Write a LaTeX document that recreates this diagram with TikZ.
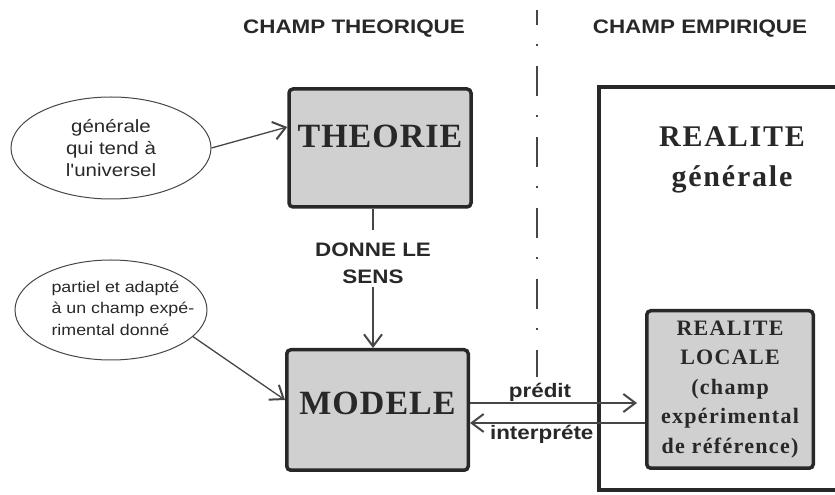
\documentclass[tikz,border=0pt]{standalone}
\usepackage{fontspec}
\usetikzlibrary{arrows.meta,shapes.geometric}
\newfontfamily\hsans[FakeStretch=1.15]{Liberation Sans}
\newfontfamily\tserif{Liberation Serif}
\definecolor{ink}{RGB}{40,40,40}
\definecolor{wire}{RGB}{70,70,70}
\definecolor{stipple}{RGB}{208,208,208}

\begin{document}
\begin{tikzpicture}
      [x = 1pt, y = 1pt,
      head/.style= {
         font = \hsans\bfseries\fontsize{19.5}{27}\selectfont,
         text = ink,
         align = center
      },
      note/.style= {
         font = \hsans\fontsize{17.8}{22}\selectfont,
         text = ink,
         align = center
      },
      smallnote/.style= {
         font = \hsans\fontsize{15.5}{21.5}\selectfont,
         text = ink,
         align = left
      },
      bubble/.style= {
         draw = wire,
         ellipse,
         line width = 1pt,
         inner sep = 0pt
      },
      block/.style= {
         draw = ink,
         fill = stipple,
         line width = 3.5pt,
         rounded corners = 4pt,
         inner sep = 0pt
      },
      big/.style= {
         font = \tserif\bfseries\fontsize{34}{40}\selectfont\addfontfeature{LetterSpace=3},
         text = ink,
         align = center
      },
      mid/.style= {
         font = \tserif\bfseries\fontsize{30}{40}\selectfont\addfontfeature{LetterSpace=6},
         text = ink,
         align = center
      },
      small/.style= {
         font = \tserif\bfseries\fontsize{22}{29.5}\selectfont\addfontfeature{LetterSpace=6},
         text = ink,
         align = center
      },
      link/.style={draw = wire, line width = 1.3pt},
      arr/.style={link, -{Straight Barb[length = 12pt, width = 18pt, line width = 2pt]}}]

      \useasboundingbox (0, 0) rectangle (835, 495);
      \clip (0, 0) rectangle (835, 495);

      % the two fields
      \node[head] (champT) at (354, 466) {CHAMP THEORIQUE};
      \node[head] (champE) at (700, 466) {CHAMP EMPIRIQUE};
      \draw[wire, line width = 1.3pt, dash pattern = on 30pt off 19pt on 2pt off 20pt,
         dash phase = 15pt] (537, 485) -- (537, 118);

      % theoretical side
      \node[block, minimum width = 182pt, minimum height = 118pt] (theorie) at (380, 347) {};
      \node[big] (theorieT) at (380, 359) {THEORIE};
      \node[block, minimum width = 181.5pt, minimum height = 120.5pt] (modele) at (377.5, 85) {};
      \node[big] (modeleT) at (377.5, 92) {MODELE};

      \node[bubble, note, minimum width = 200pt, minimum height = 102pt] (general) at (111, 347)
         {générale\\qui tend à\\l'universel};
      \node[bubble, minimum width = 192pt, minimum height = 100pt] (partiel) at (111, 185) {};
      \node[smallnote, anchor = west] (partielT) at (48, 187)
         {partiel et adapté\\à un champ expé-\\rimental donné};

      \draw[arr] (general.east) -- ([yshift = 21pt]theorie.west);
      \draw[arr] (partiel.-18) -- ([yshift = 10pt]modele.west);

      \node[head] (sens) at (373, 232) {DONNE LE\\SENS};
      \draw[link, shorten >= 9pt] (theorie.south -| sens.north) -- (sens.north);
      \draw[arr] (sens.south) -- (modele.north -| sens.south);

      % empirical side
      \draw[draw = ink, line width = 3.5pt] (599, 408) rectangle (860, 5);
      \node[mid] (realite) at (732, 335) {REALITE\\générale};
      \node[block, small, minimum width = 166.5pt, minimum height = 157.5pt] (locale) at (730, 105.5)
         {REALITE\\LOCALE\\(champ\\expérimental\\de référence)};

      \draw[arr, shorten >= 8pt] ([yshift = 7pt]modele.east) -- ([yshift = -13.5pt]locale.west)
         node[head, pos = 0.4, above, inner sep = 1pt] {prédit};
      \draw[arr] ([yshift = -33.5pt]locale.west) -- ([yshift = -13pt]modele.east)
         node[head, pos = 0.59, below, inner sep = 2pt] {interpréte};

   \end{tikzpicture}
\end{document}
